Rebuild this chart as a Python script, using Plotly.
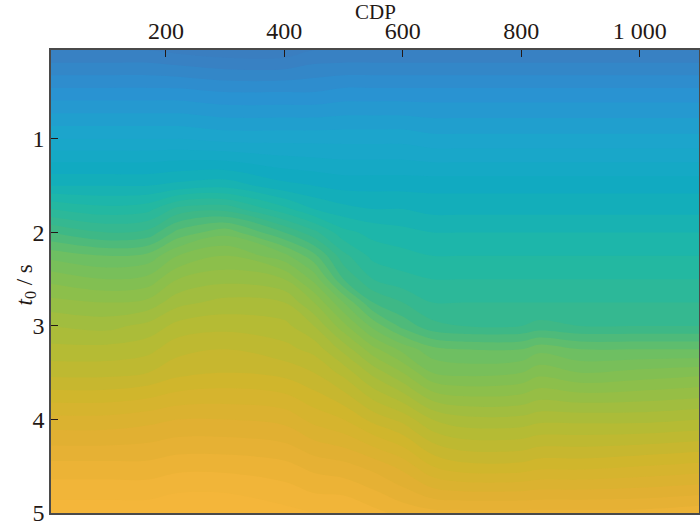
import plotly.graph_objects as go

cdp = [6, 100, 170, 220, 300, 400, 450, 500, 550, 600, 650, 700, 800, 830, 900, 1000, 1100]
t0 = [0.05, 0.5, 1.0, 1.5, 1.75, 2.0, 2.25, 2.5, 2.75, 3.0, 3.25, 3.5, 4.0, 4.5, 5.0]
# colour-index field, one row per t0
z_005 = [0.0, 0.0, 0.0, -0.1, -0.2, -0.2, 0.0, 0.0, 0.0, 0.0, 0.0, 0.0, 0.0, 0.0, 0.0, 0.0, 0.0]
z_050 = [1.0, 1.0, 1.0, 1.0, 0.9, 0.9, 0.9, 1.0, 1.0, 1.0, 1.0, 1.0, 1.0, 1.0, 1.0, 1.0, 1.0]
z_100 = [2.1, 2.1, 2.1, 2.1, 2.0, 2.0, 2.0, 2.0, 2.0, 2.0, 1.9, 1.9, 1.9, 1.9, 1.9, 1.9, 1.9]
z_150 = [3.3, 3.3, 3.3, 3.4, 3.5, 3.1, 3.0, 2.9, 2.9, 2.9, 2.9, 2.9, 2.9, 2.9, 2.9, 2.9, 2.9]
z_175 = [4.2, 4.0, 4.1, 4.6, 4.7, 4.0, 3.6, 3.4, 3.3, 3.3, 3.2, 3.2, 3.2, 3.2, 3.2, 3.2, 3.2]
z_200 = [5.1, 4.8, 4.9, 5.5, 5.9, 5.1, 4.6, 4.0, 3.8, 3.7, 3.6, 3.6, 3.6, 3.6, 3.6, 3.6, 3.6]
z_225 = [5.9, 5.7, 5.8, 6.3, 6.6, 6.1, 5.5, 4.6, 4.1, 4.0, 3.9, 3.9, 3.9, 3.9, 3.9, 3.9, 3.9]
z_250 = [6.5, 6.3, 6.4, 6.9, 7.1, 6.9, 6.2, 5.1, 4.5, 4.3, 4.2, 4.2, 4.2, 4.2, 4.2, 4.2, 4.2]
z_275 = [7.0, 6.9, 7.0, 7.4, 7.6, 7.5, 6.9, 6.0, 5.1, 4.8, 4.5, 4.5, 4.5, 4.5, 4.5, 4.5, 4.5]
z_300 = [7.5, 7.4, 7.6, 7.9, 8.0, 7.9, 7.5, 6.7, 5.9, 5.3, 4.9, 4.8, 4.8, 4.9, 4.8, 4.8, 4.8]
z_325 = [7.9, 7.9, 8.0, 8.3, 8.4, 8.2, 8.0, 7.4, 6.7, 6.2, 5.8, 5.7, 5.7, 5.9, 5.7, 5.7, 5.7]
z_350 = [8.3, 8.3, 8.4, 8.6, 8.7, 8.6, 8.4, 8.0, 7.4, 6.9, 6.3, 6.2, 6.3, 6.5, 6.3, 6.4, 6.5]
z_400 = [9.4, 9.4, 9.5, 9.6, 9.6, 9.5, 9.2, 9.0, 8.6, 8.3, 7.8, 7.6, 7.6, 7.7, 7.7, 7.7, 7.8]
z_450 = [10.3, 10.3, 10.3, 10.4, 10.4, 10.3, 10.1, 10.0, 9.8, 9.5, 9.0, 8.8, 8.8, 8.9, 8.9, 9.0, 9.1]
z_500 = [11.0, 11.0, 11.0, 11.1, 11.1, 10.9, 10.8, 10.8, 10.6, 10.4, 10.3, 10.3, 10.3, 10.3, 10.3, 10.3, 10.4]
z = [z_005, z_050, z_100, z_150, z_175, z_200, z_225, z_250, z_275, z_300, z_325, z_350, z_400, z_450, z_500]

stops = ["#3a7ec0", "#2a92d2", "#1ca5cc", "#10abc0", "#20b8a5", "#3cb888",
         "#70bf60", "#90bf48", "#b2bb35", "#d0b62c", "#e2b032", "#f4b63a"]
x_ticks = [200, 400, 600, 800, 1000]
x_labels = ["200", "400", "600", "800", "1 000"]
y_ticks = [1, 2, 3, 4, 5]

FONT = "Liberation Serif"
INK = "#231815"

fig = go.Figure(go.Contour(
    x=cdp, y=t0, z=z,
    zmin=0, zmax=11,
    colorscale=[[i / (len(stops) - 1), c] for i, c in enumerate(stops)],
    autocontour=False,
    contours=dict(start=-0.3, end=11.5, size=0.3, coloring="fill", showlines=False),
    line=dict(width=0),
    showscale=False,
))

fig.update_layout(
    width=700, height=527,
    margin=dict(l=51, r=1, t=50, b=14),
    paper_bgcolor="white", plot_bgcolor="white",
    font=dict(family=FONT, size=24, color=INK),
    showlegend=False,
    annotations=[
        dict(text="CDP", xref="paper", yref="paper", x=0.5, y=1, yshift=38, showarrow=False,
             yanchor="middle", font=dict(family=FONT, size=21, color=INK)),
        dict(text="<i>t</i><sub>0</sub> / s", xref="paper", yref="paper", x=0, xshift=-26, y=0.5, yshift=-4,
             showarrow=False, textangle=-90, xanchor="center", yanchor="middle",
             font=dict(family=FONT, size=23, color=INK)),
    ],
)
fig.update_xaxes(
    side="top", range=[6, 1100], tickmode="array", tickvals=x_ticks, ticktext=x_labels,
    ticks="inside", ticklen=7, tickwidth=1.3, tickcolor=INK, automargin=False,
    showline=True, linecolor="#4a4a4a", linewidth=1.5, mirror=True, showgrid=False, zeroline=False,
    tickfont=dict(family=FONT, size=24, color=INK),
)
fig.update_yaxes(
    range=[5, 0.05], tickmode="array", tickvals=y_ticks, automargin=False,
    ticks="inside", ticklen=7, tickwidth=1.3, tickcolor=INK,
    showline=True, linecolor="#4a4a4a", linewidth=1.5, mirror=True, showgrid=False, zeroline=False,
    tickfont=dict(family=FONT, size=24, color=INK),
)
fig.write_html("out.html", default_width="700px", default_height="527px",
               config=dict(displayModeBar=False),
               post_script="document.body.style.margin='0';")
